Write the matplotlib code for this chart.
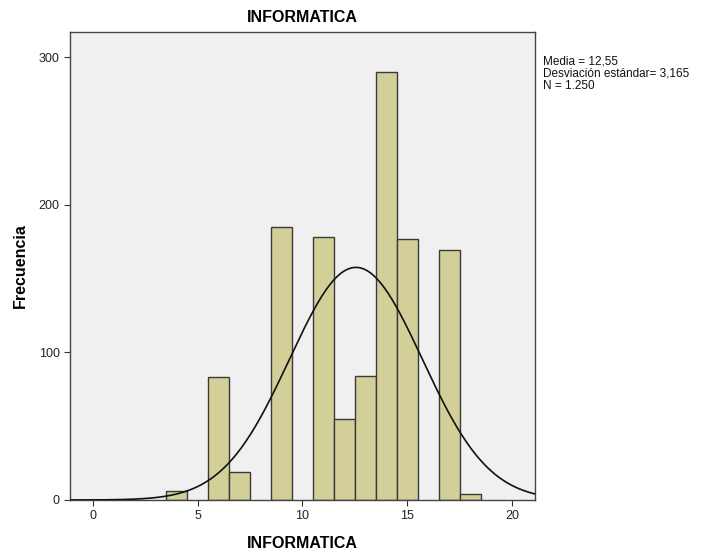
import numpy as np
import matplotlib
matplotlib.use("Agg")
import matplotlib.pyplot as plt

plt.rcParams['font.family'] = ['Liberation Sans', 'DejaVu Sans']

# histogram bins (centre value) and frequencies
bin_centers = [4, 6, 7, 9, 11, 12, 13, 14, 15, 17, 18]
counts = [6, 83, 19, 185, 178, 55, 84, 290, 177, 169, 4]
mean = 12.55
std = 3.165
n_total = 1250
bin_width = 1.0

fig = plt.figure(figsize=(7.01, 5.54), dpi=100)
ax = fig.add_axes([70 / 701, 54 / 554, 465 / 701, 468 / 554])
ax.set_facecolor("#f0f0f0")

ax.bar(bin_centers, counts, width=bin_width, color="#d3cf98",
       edgecolor="#3a3a3a", linewidth=1.0, zorder=2)

xs = np.linspace(-1.1, 21.1, 400)
ys = n_total * bin_width / (std * np.sqrt(2 * np.pi)) * np.exp(-0.5 * ((xs - mean) / std) ** 2)
ax.plot(xs, ys, color="#111111", linewidth=1.2, zorder=3)

ax.set_xlim(-1.1, 21.1)
ax.set_ylim(0, 317)
ax.set_xticks([0, 5, 10, 15, 20])
ax.set_yticks([0, 100, 200, 300])
ax.tick_params(labelsize=9, length=4, color="#333333", labelcolor="#222222")
for s in ax.spines.values():
    s.set_color("#444444")
    s.set_linewidth(1.0)

# titles placed in figure pixels to match the reference layout
fig.text(302 / 701, 1 - 17 / 554, "INFORMATICA", fontsize=11.5,
         fontweight="bold", ha="center", va="center")
fig.text(302 / 701, 1 - 543 / 554, "INFORMATICA", fontsize=11.5,
         fontweight="bold", ha="center", va="center")
fig.text(20 / 701, 1 - 266 / 554, "Frecuencia", fontsize=11.5,
         fontweight="bold", ha="center", va="center", rotation=90)

fig.text(543 / 701, 1 - 56 / 554,
         "Media = 12,55\nDesviación estándar= 3,165\nN = 1.250",
         fontsize=8.5, va="top", ha="left", linespacing=1.0, color="#111111")

fig.savefig("out.png", dpi=100)
